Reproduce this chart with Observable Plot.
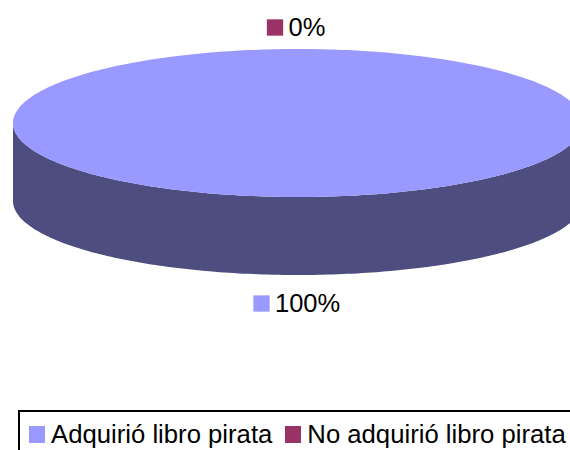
<!DOCTYPE html>
<html><head><meta charset="utf-8">
<script src="https://cdn.jsdelivr.net/npm/d3@7"></script>
<script src="https://cdn.jsdelivr.net/npm/@observablehq/plot@0.6"></script>
<style>
html,body{margin:0;padding:0;background:#fff;width:570px;height:450px;overflow:hidden;font-family:"Liberation Sans",Arial,sans-serif}
#chart svg{display:block;overflow:hidden}
#legend{box-sizing:content-box;margin-left:18px;width:600px;height:45px;border:2px solid #000;display:flex;align-items:center;font-size:25.7px;color:#000;white-space:nowrap;padding-left:9px}
#legend .sw{display:inline-block;width:16px;height:17px;margin-right:6px}
#legend .it{display:flex;align-items:center;margin-right:13px}
</style></head><body>
<div id="chart"></div>
<div id="legend"></div>
<script>
const categories = ["Adquirió libro pirata", "No adquirió libro pirata"];
const shares = [100, 0];
const percentLabels = ["100%", "0%"];
const colors = ["#9999FF", "#993366"];
const wallColor = "#4D4D7F";

const depth = 1.054;               // wall height, in radii of the flattened disc
const rim = d3.range(0, 181, 1);   // sampled sweep along the front half of the disc
const rad = d => d * Math.PI / 180;

const slices = d3.pie().sort(null)(shares).map((s, i) => ({
  category: categories[i], share: shares[i], label: percentLabels[i], color: colors[i],
  mid: (s.startAngle + s.endAngle) / 2
}));

const rimX = a => Math.cos(rad(a));
const rimY = a => Math.sin(rad(a));

const labelMarks = slices.flatMap(s => {
  const isBottom = Math.cos(s.mid) < 0;
  const px = Math.sin(s.mid);
  const py = -Math.cos(s.mid) + (isBottom ? depth : 0);
  const dy = isBottom ? 28 : -22;
  const half = s.label.length * 6.75 + 9;
  return [
    Plot.dot([s], {x: () => px, y: () => py, symbol: "square", r: 9.2, fill: s.color, dy, dx: -half - 1}),
    Plot.text([s], {x: () => px, y: () => py, text: d => d.label, dy, dx: -half + 12.5, textAnchor: "start", fontSize: 25.5, fill: "#000"})
  ];
});

const plot = Plot.plot({
  width: 570, height: 410,
  margin: 0,
  x: {domain: [-1, 1], range: [13, 583], axis: null},
  y: {domain: [-1, 1], range: [49, 197], axis: null},
  style: {fontFamily: '"Liberation Sans", Arial, sans-serif', background: "#fff"},
  marks: [
    // side wall of the cylinder
    Plot.area(rim, {x1: rimX, y1: rimY, y2: a => rimY(a) + depth, fill: wallColor}),
    // top face
    Plot.area(rim, {x1: rimX, y1: rimY, y2: a => -rimY(a), fill: colors[0]}),
    ...labelMarks
  ]
});
document.getElementById("chart").append(plot);

const legend = document.getElementById("legend");
categories.forEach((c, i) => {
  const it = document.createElement("span"); it.className = "it";
  const sw = document.createElement("span"); sw.className = "sw"; sw.style.background = colors[i];
  it.append(sw, document.createTextNode(c));
  legend.append(it);
});
</script>
</body></html>
